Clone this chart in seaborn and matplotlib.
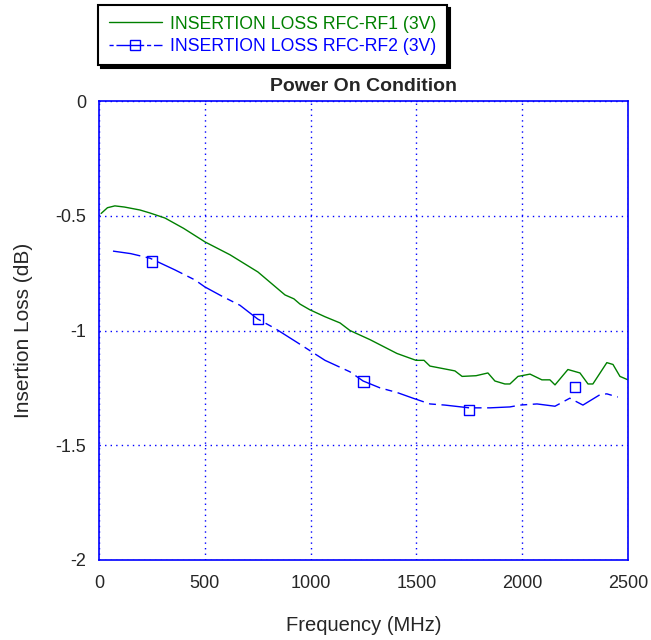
import matplotlib
matplotlib.use("Agg")
import matplotlib.pyplot as plt
import seaborn as sns
from matplotlib.lines import Line2D

# insertion loss RFC-RF1 (3V)
freq_rf1 = [10, 40, 75, 120, 194, 241, 312, 400, 501, 619, 751, 879, 921, 950, 997,
            1068, 1139, 1186, 1281, 1408, 1498, 1536, 1564, 1682, 1716, 1782, 1838,
            1871, 1918, 1942, 1980, 2037, 2093, 2131, 2155, 2216, 2273, 2311, 2334,
            2400, 2429, 2462, 2500]
loss_rf1 = [-0.49, -0.465, -0.457, -0.462, -0.475, -0.488, -0.51, -0.555, -0.614, -0.67,
            -0.745, -0.845, -0.862, -0.885, -0.91, -0.94, -0.967, -1.0, -1.04, -1.10,
            -1.13, -1.13, -1.155, -1.176, -1.20, -1.197, -1.185, -1.22, -1.233, -1.233,
            -1.20, -1.19, -1.215, -1.215, -1.237, -1.17, -1.185, -1.233, -1.233, -1.14,
            -1.148, -1.20, -1.215]

# insertion loss RFC-RF2 (3V)
freq_rf2 = [66, 150, 241, 359, 454, 500, 580, 666, 750, 830, 950, 1068, 1186, 1248,
            1328, 1408, 1484, 1564, 1635, 1750, 1848, 1942, 1990, 2070, 2155, 2225,
            2287, 2367, 2400, 2452]
loss_rf2 = [-0.654, -0.665, -0.685, -0.736, -0.78, -0.81, -0.85, -0.89, -0.95, -0.99,
            -1.06, -1.13, -1.18, -1.22, -1.25, -1.27, -1.295, -1.32, -1.325, -1.337,
            -1.337, -1.333, -1.325, -1.32, -1.33, -1.295, -1.325, -1.28, -1.276, -1.29]
marker_freq = [250, 750, 1250, 1750, 2250]
marker_loss = [-0.70, -0.95, -1.222, -1.347, -1.246]

sns.set_style("white")
plt.rcParams['font.family'] = ['Liberation Sans', 'DejaVu Sans']

green = "#008000"
blue = "#0000ff"

fig = plt.figure(figsize=(6.51, 6.40), dpi=100)
ax = fig.add_axes([99/651, 1-560/640, 529/651, 459/640])

sns.lineplot(x=freq_rf1, y=loss_rf1, color=green, linewidth=1, ax=ax)
sns.lineplot(x=freq_rf2, y=loss_rf2, color=blue, linewidth=1, dashes=False, ax=ax)
ax.lines[-1].set_dashes((20, 4, 5, 4))
sns.scatterplot(x=marker_freq, y=marker_loss, marker='s', s=55, facecolor='none',
                edgecolor=blue, linewidth=1, ax=ax, zorder=3)

ax.set_xlim(0, 2500)
ax.set_ylim(-2, 0)
ax.set_xticks([0, 500, 1000, 1500, 2000, 2500])
ax.set_yticks([0, -0.5, -1, -1.5, -2])
ax.set_yticklabels(["0", "-0.5", "-1", "-1.5", "-2"])
ax.grid(True, color=blue, linestyle=(0, (1, 3)), linewidth=1)
for sp in ax.spines.values():
    sp.set_color(blue)
    sp.set_linewidth(1.2)
ax.tick_params(labelsize=13, length=0)
ax.tick_params(axis='x', pad=11)
ax.tick_params(axis='y', pad=9)

ax.set_xlabel("Frequency (MHz)", fontsize=14.5, labelpad=17)
ax.set_ylabel("Insertion Loss (dB)", fontsize=15, labelpad=16)
ax.set_title("Power On Condition", fontsize=14, fontweight='bold', pad=7, x=0.5)

h1 = Line2D([], [], color=green, linewidth=1)
h2 = Line2D([], [], color=blue, linewidth=1, marker='s', markerfacecolor='none',
            markersize=7, dashes=(3, 2, 20, 2))
leg = fig.legend([h1, h2], ["INSERTION LOSS RFC-RF1 (3V)", "INSERTION LOSS RFC-RF2 (3V)"],
                 loc='upper left', bbox_to_anchor=(98/651, 1-5/640), fontsize=12.7,
                 frameon=True, fancybox=False, shadow={'color': 'black', 'alpha': 1},
                 borderaxespad=0, handlelength=3.0, handletextpad=0.5,
                 labelspacing=0.3, borderpad=0.6)
leg.get_frame().set_edgecolor('black')
leg.get_frame().set_linewidth(1.5)
for t, c in zip(leg.get_texts(), [green, blue]):
    t.set_color(c)

fig.savefig("out.png", dpi=100)
